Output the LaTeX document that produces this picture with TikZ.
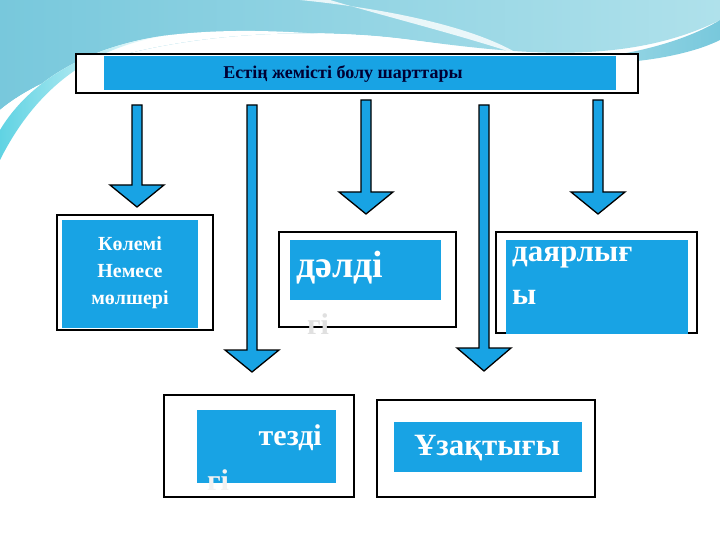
\documentclass[tikz,border=0pt]{standalone}
\usepackage{fontspec}
\setmainfont{Liberation Serif}
\begin{document}
\begin{tikzpicture}[x=1pt,y=-1pt,
  outer/.style={draw=black,line width=1.5pt,fill=white},
  blue/.style={fill=cblue},
  arr/.style={draw=black,line width=1.3pt,fill=cblue,line join=miter},
  wtxt/.style={text=white,font=\bfseries,inner sep=0pt}]
\definecolor{cblue}{RGB}{24,163,228}
\definecolor{tealA}{RGB}{120,200,220}
\definecolor{tealB}{RGB}{175,225,235}
\useasboundingbox (0,0) rectangle (720,540);
\fill[white] (0,0) rectangle (720,540);
% background waves
\shade[left color=tealA,right color=tealB] (0,0) -- (720,0) -- (720,20) .. controls (600,80) and (450,40) .. (360,35) .. controls (200,25) and (60,60) .. (0,110) -- cycle;
\fill[white] (0,110) .. controls (60,60) and (200,25) .. (360,35) .. controls (450,40) and (560,70) .. (600,70) .. controls (450,50) and (300,20) .. (170,35) .. controls (90,45) and (30,80) .. (0,130) -- cycle;
\shade[left color=tealA!80!cyan,right color=white] (0,130) .. controls (30,80) and (90,45) .. (170,35) .. controls (100,45) and (40,80) .. (0,160) -- cycle;
\fill[white,opacity=0.8] (300,0) .. controls (400,10) and (480,30) .. (520,55) .. controls (460,35) and (380,15) .. (330,0) -- cycle;
\shade[left color=tealB,right color=tealA] (520,60) .. controls (600,65) and (680,45) .. (720,20) -- (720,40) .. controls (680,60) and (600,70) .. (520,60) -- cycle;
% header
\draw[outer] (76,54) rectangle (638,93);
\fill[blue] (104,56) rectangle (616,90);
\node[inner sep=0pt,font=\bfseries\fontsize{18}{20}\selectfont,text=black!80!blue] (h) at (343,74) {Естің жемісті болу шарттары};
% arrows: x, top, head y, tip y, half shaft, half head
\foreach \x/\t/\h/\tip in {137/105/185/207, 252/105/350/372, 366/100/192/214, 484/105/348/371, 598/100/192/214}{
  \draw[arr] (\x-5,\t) -- (\x+5,\t) -- (\x+5,\h) -- (\x+27,\h) -- (\x,\tip) -- (\x-27,\h) -- (\x-5,\h) -- cycle;
}
% box 1
\draw[outer] (57,215) rectangle (213,330);
\fill[blue] (62,220) rectangle (198,328);
\node[wtxt,align=center,font=\bfseries\fontsize{20}{27}\selectfont] (b1) at (130,273) {Көлемі\\Немесе\\мөлшері};
% box 2
\draw[outer] (279,232) rectangle (456,327);
\fill[blue] (290,240) rectangle (441,300);
\node[wtxt,font=\bfseries\fontsize{38}{40}\selectfont,anchor=west] (b2) at (296,268) {дәлді};
\node[inner sep=0pt,text=black!12,font=\bfseries\fontsize{30}{32}\selectfont] (b2b) at (318,324) {гі};
% box 3
\draw[outer] (496,232) rectangle (697,333);
\fill[blue] (506,240) rectangle (688,334);
\node[wtxt,align=left,anchor=north west,font=\bfseries\fontsize{31}{43}\selectfont] (b3) at (512,247) {даярлығ\\ы};
% box 4
\draw[outer] (164,395) rectangle (354,497);
\fill[blue] (197,410) rectangle (336,483);
\node[wtxt,font=\bfseries\fontsize{30}{32}\selectfont,anchor=east] (b4) at (322,438) {тезді};
\node[wtxt,font=\bfseries\fontsize{30}{32}\selectfont,text=white!90!gray] (b4b) at (218,480) {гі};
% box 5
\draw[outer] (377,400) rectangle (595,497);
\fill[blue] (394,422) rectangle (582,472);
\node[wtxt,font=\bfseries\fontsize{31}{33}\selectfont] (b5) at (487,448) {Ұзақтығы};
\end{tikzpicture}
\end{document}
